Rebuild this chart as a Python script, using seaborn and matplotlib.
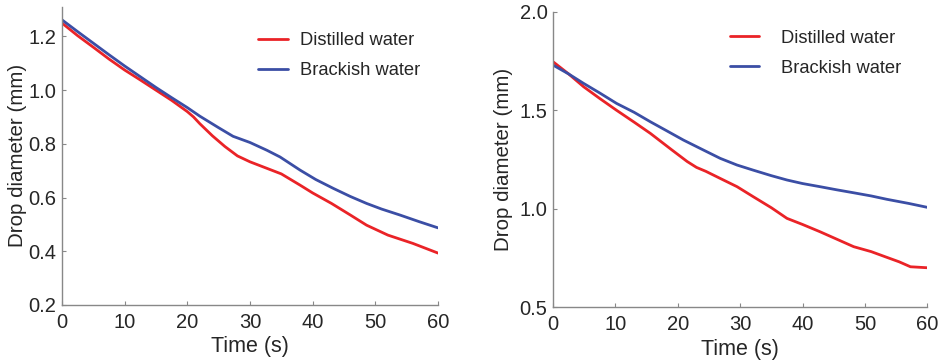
import numpy as np
import pandas as pd
import matplotlib
matplotlib.use("Agg")
import matplotlib.pyplot as plt
import seaborn as sns

# Panel izquierdo
t_left_d = [0, 2.5, 5, 7.5, 10, 12.5, 15, 17.5, 20, 21, 22, 24, 26, 28, 30, 32, 35, 38, 40, 43, 46, 48.6, 52, 56, 60]
distilled_left = [1.25, 1.203, 1.16, 1.116, 1.075, 1.038, 1.0, 0.962, 0.92, 0.90, 0.875, 0.83, 0.79, 0.755, 0.733,
                  0.715, 0.688, 0.646, 0.617, 0.578, 0.535, 0.497, 0.460, 0.429, 0.393]
t_left_b = [0, 2.5, 5, 7.5, 10, 12.5, 15, 17.5, 20, 22, 25, 27.3, 30, 32.7, 34.8, 38, 40.5, 43.3, 46, 48.6, 51, 53.9, 57, 60]
brackish_left = [1.262, 1.218, 1.175, 1.132, 1.09, 1.05, 1.01, 0.972, 0.935, 0.903, 0.86, 0.828, 0.805, 0.776,
                 0.751, 0.702, 0.667, 0.634, 0.604, 0.578, 0.557, 0.535, 0.51, 0.487]

# Panel derecho
t_right_d = [0, 2.5, 4.9, 7.5, 10.2, 13, 15.6, 19, 21.5, 23, 24.5, 26.8, 29.5, 32.1, 35, 37.5, 40, 42.8, 45.5, 48.2,
             51, 53.5, 55.5, 57.3, 60]
distilled_right = [1.747, 1.685, 1.62, 1.56, 1.50, 1.44, 1.383, 1.30, 1.24, 1.21, 1.19, 1.154, 1.112, 1.061, 1.005,
                   0.951, 0.92, 0.883, 0.845, 0.807, 0.782, 0.753, 0.73, 0.705, 0.70]
t_right_b = [0, 2.5, 4.9, 7.5, 10.2, 13, 15.6, 18, 20.9, 24, 26.8, 29.5, 32.1, 35, 37.5, 40, 42.8, 45.5, 48.2,
             51, 53.5, 57, 60]
brackish_right = [1.73, 1.685, 1.637, 1.588, 1.535, 1.49, 1.442, 1.40, 1.349, 1.30, 1.256, 1.222, 1.196, 1.168,
                  1.146, 1.128, 1.112, 1.096, 1.081, 1.065, 1.048, 1.027, 1.007]

x_ticks = [0, 10, 20, 30, 40, 50, 60]
y_ticks_left = [0.2, 0.4, 0.6, 0.8, 1.0, 1.2]
y_ticks_right = [0.5, 1.0, 1.5, 2.0]

sns.set_style("white")
plt.rcParams["font.family"] = ["Liberation Sans", "DejaVu Sans"]

palette = {"Distilled water": "#ea2327", "Brackish water": "#3b4ea5"}


def make_df(td, d, tb, b):
    return pd.concat([
        pd.DataFrame({"time": td, "diameter": d, "sample": "Distilled water"}),
        pd.DataFrame({"time": tb, "diameter": b, "sample": "Brackish water"}),
    ])


fig = plt.figure(figsize=(9.38, 3.63), dpi=100)
ax1 = fig.add_axes([0.066, 0.160, 0.401, 0.821])
ax2 = fig.add_axes([0.5896, 0.154, 0.399, 0.813])

# eje, datos, ylim, yticks, posicion leyenda, separacion texto, labelpad del eje y
panels = [
    (ax1, make_df(t_left_d, distilled_left, t_left_b, brackish_left), (0.2, 1.31), y_ticks_left,
     (0.522, 0.915), 0.7, 1.0),
    (ax2, make_df(t_right_d, distilled_right, t_right_b, brackish_right), (0.5, 2.0), y_ticks_right,
     (0.473, 0.94), 1.2, 5.0),
]

for ax, df, ylim, yt, leg_pos, txtpad, ylpad in panels:
    sns.lineplot(data=df, x="time", y="diameter", hue="sample", palette=palette,
                 linewidth=2.0, ax=ax)
    ax.set_xlim(0, 60)
    ax.set_ylim(*ylim)
    ax.set_xticks(x_ticks)
    ax.set_yticks(yt)
    ax.set_yticklabels(["%.1f" % v for v in yt])
    ax.set_xlabel("Time (s)", fontsize=15.5, labelpad=3)
    ax.set_ylabel("Drop diameter (mm)", fontsize=14.8, labelpad=ylpad)
    ax.tick_params(axis="x", pad=6)
    ax.tick_params(axis="y", pad=4)
    ax.tick_params(direction="in", length=3, width=0.8, color="#888888",
                   labelsize=14.5, bottom=True, left=True)
    for s in ["top", "right"]:
        ax.spines[s].set_visible(False)
    for s in ["left", "bottom"]:
        ax.spines[s].set_color("#888888")
        ax.spines[s].set_linewidth(1.0)
    ax.legend(title=None, frameon=False, fontsize=13.2, loc="upper left",
              bbox_to_anchor=leg_pos, borderpad=0, borderaxespad=0,
              handlelength=1.6, handletextpad=txtpad, labelspacing=0.7)

fig.savefig("out.png", dpi=100)
